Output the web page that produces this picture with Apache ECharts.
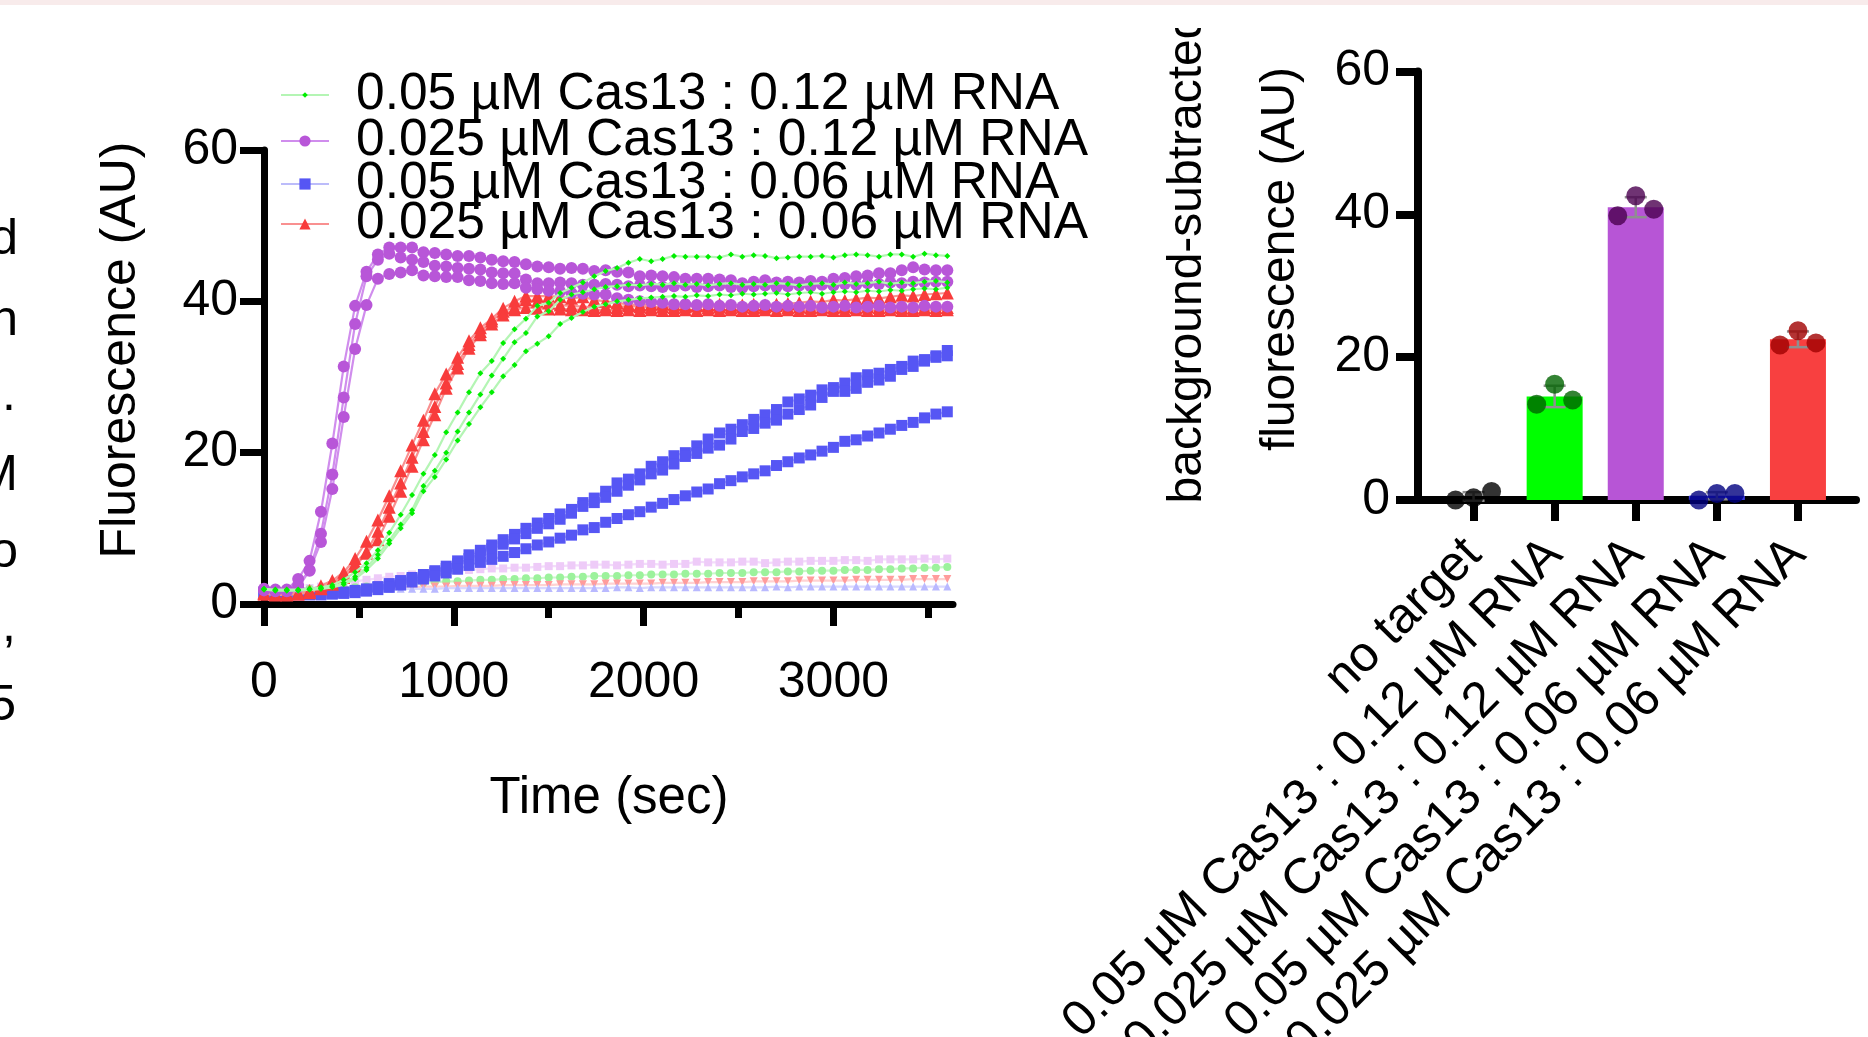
<!DOCTYPE html>
<html><head><meta charset="utf-8">
<script src="https://cdn.jsdelivr.net/npm/echarts@6/dist/echarts.min.js"></script>
<style>html,body{margin:0;padding:0;background:#fff}#c{width:1868px;height:1037px}</style>
</head><body><div id="c"></div>
<script>
const FONT = 'Liberation Sans, Arial, sans-serif';

const TIME = [0,60,120,180,240,300,360,420,480,540,600,660,720,780,840,900,960,1020,1080,1140,1200,1260,1320,1380,1440,1500,1560,1620,1680,1740,1800,1860,1920,1980,2040,2100,2160,2220,2280,2340,2400,2460,2520,2580,2640,2700,2760,2820,2880,2940,3000,3060,3120,3180,3240,3300,3360,3420,3480,3540,3600];
const X_MAJOR = [0,1000,2000,3000];
const X_MINOR = [500,1500,2500,3500];

const LEG_NAMES = ['0.05 µM Cas13 : 0.12 µM RNA','0.025 µM Cas13 : 0.12 µM RNA','0.05 µM Cas13 : 0.06 µM RNA','0.025 µM Cas13 : 0.06 µM RNA'];

// 0.025 µM Cas13 : 0.12 µM RNA (purple) replicates
const P1 = [2.0,1.9,1.9,3.3,5.7,12.2,21.2,31.4,39.4,43.9,
 46.2,47.1,47.1,47.1,46.5,46.4,46.2,46.0,46.0,45.8,
 45.5,45.3,45.2,44.9,44.6,44.5,44.3,44.4,44.3,44.0,
 44.1,43.9,43.8,43.3,43.4,43.3,43.2,43.0,43.0,43.0,
 42.9,42.8,42.4,42.6,42.8,42.5,42.6,42.5,42.7,42.6,
 43.0,43.1,43.3,43.4,43.7,43.7,44.1,44.5,44.2,44.1,
 44.1];
const P2 = [1.9,1.8,1.8,2.5,4.5,9.3,17.1,27.3,37.0,43.3,
 45.5,46.3,45.8,45.5,45.2,44.7,44.6,44.4,44.3,44.2,
 43.8,43.7,43.7,42.9,42.4,42.4,42.5,42.4,42.2,42.2,
 42.3,42.2,42.0,42.1,42.0,41.9,42.0,42.1,41.9,42.0,
 42.1,41.9,41.8,42.0,42.1,41.9,42.0,42.1,42.0,42.2,
 42.1,42.3,42.2,42.4,42.3,42.5,42.4,42.6,42.5,42.6,
 42.6];
const P3 = [1.8,1.7,1.7,2.2,4.4,8.2,15.2,24.7,33.7,39.5,
 43.0,43.6,43.8,44.1,43.4,43.3,43.2,43.2,42.8,42.7,
 42.4,42.3,42.4,41.8,41.6,41.4,41.3,41.1,41.0,40.9,
 40.9,40.4,40.2,40.0,39.9,39.8,39.6,39.6,39.5,39.6,
 39.4,39.5,39.3,39.4,39.5,39.3,39.4,39.3,39.4,39.2,
 39.3,39.4,39.2,39.3,39.4,39.2,39.3,39.2,39.4,39.3,
 39.3];
// 0.025 µM Cas13 : 0.06 µM RNA (red)
const R1 = [1.5,1.4,1.4,1.5,1.8,2.4,3.1,4.2,6.0,8.3,
 11.1,14.3,17.6,21.0,24.3,27.8,30.4,32.6,34.8,36.5,
 37.7,39.1,40.0,40.7,40.7,40.7,40.6,40.4,40.6,40.2,
 40.0,39.8,39.6,39.5,39.6,39.7,39.6,39.5,39.4,39.5,
 39.6,39.5,39.5,39.6,39.5,39.6,39.7,39.8,40.0,39.9,
 40.2,40.1,40.3,40.5,40.4,40.6,40.8,40.7,40.9,41.0,
 41.1];
const R2 = [1.4,1.3,1.3,1.4,1.6,2.1,2.8,3.8,5.4,6.9,
 9.6,12.8,16.0,19.4,22.8,26.1,29.2,31.8,34.3,36.0,
 37.4,38.7,39.2,40.2,40.0,39.8,39.5,39.4,39.3,39.2,
 39.3,39.2,39.4,39.3,39.2,39.3,39.2,39.3,39.4,39.2,
 39.3,39.2,39.3,39.2,39.3,39.4,39.2,39.3,39.2,39.3,
 39.2,39.3,39.2,39.3,39.2,39.3,39.2,39.1,39.2,39.2,
 39.2];
const R3 = [1.3,1.2,1.2,1.3,1.5,2.0,2.6,3.5,5.0,6.7,
 8.5,11.6,14.9,18.2,21.7,25.0,28.5,31.2,33.8,35.6,
 37.0,38.2,38.9,39.2,39.1,39.0,39.0,38.9,38.9,38.8,
 38.9,38.8,38.9,38.8,38.9,38.8,38.8,38.9,38.8,38.9,
 38.8,38.9,38.8,38.8,38.9,38.8,38.9,38.8,38.8,38.9,
 38.8,38.8,38.9,38.8,38.8,38.9,38.8,38.8,38.9,38.8,
 38.9];
// 0.05 µM Cas13 : 0.12 µM RNA (green)
const G1 = [2.0,1.9,1.9,1.9,2.0,2.2,2.5,3.2,4.2,5.4,
 7.1,9.4,11.8,14.4,17.2,19.7,22.7,25.3,28.0,30.5,
 32.1,34.5,36.3,37.7,39.4,39.8,41.1,41.8,42.5,43.3,
 44.0,44.4,45.1,45.6,45.3,45.6,46.0,45.9,45.9,45.9,
 45.8,46.2,45.9,46.1,46.0,45.7,45.8,45.9,45.9,46.0,
 45.8,46.1,46.2,46.1,45.9,46.2,46.2,45.9,46.3,46.1,
 46.0];
const G2 = [1.9,1.8,1.8,1.8,1.9,2.0,2.3,2.8,3.6,4.8,
 6.5,8.4,10.5,12.4,15.6,17.6,20.0,22.8,25.3,27.7,
 30.2,32.4,34.6,35.8,38.0,38.7,40.2,40.9,41.2,41.6,
 41.9,42.0,42.2,42.1,42.3,42.2,42.4,42.2,42.3,42.1,
 42.3,42.4,42.2,42.3,42.2,42.4,42.3,42.1,42.3,42.4,
 42.2,42.5,42.3,42.4,42.6,42.3,42.5,42.4,42.6,42.7,
 42.5];
const G3 = [1.9,1.8,1.8,1.8,1.9,2.0,2.2,2.6,3.3,4.5,
 6.0,8.0,10.0,12.0,14.9,16.8,19.1,21.6,23.8,26.0,
 28.0,30.1,31.6,33.4,34.4,35.4,37.0,37.8,38.6,39.3,
 39.6,40.0,40.2,40.4,40.5,40.6,40.7,40.6,40.8,40.7,
 40.9,40.8,41.0,40.9,41.0,41.1,40.9,41.1,41.2,41.0,
 41.2,41.3,41.2,41.4,41.3,41.5,41.4,41.6,41.7,41.6,
 41.8];
// 0.05 µM Cas13 : 0.06 µM RNA (blue)
const B1 = [1.6,1.5,1.4,1.4,1.4,1.4,1.5,1.6,1.8,2.0,
 2.3,2.7,3.1,3.5,3.9,4.4,5.0,5.7,6.5,7.1,
 7.8,8.5,9.2,10.0,10.7,11.3,11.9,12.5,13.4,14.0,
 14.9,16.0,16.5,17.2,18.2,18.8,19.6,20.0,20.9,21.8,
 22.6,23.1,23.7,24.4,25.0,25.7,26.7,27.1,27.6,28.3,
 28.6,29.2,29.9,30.3,30.5,31.0,31.4,32.1,32.3,32.8,
 33.5];
const B2 = [1.5,1.4,1.3,1.3,1.3,1.3,1.4,1.5,1.7,1.9,
 2.2,2.5,2.9,3.3,3.7,4.2,4.7,5.3,6.0,6.6,
 7.3,7.9,8.6,9.3,10.0,10.6,11.2,12.0,12.9,13.4,
 14.1,14.9,15.7,16.4,17.2,17.7,18.5,19.5,19.9,20.6,
 21.0,21.8,22.8,23.2,23.9,24.3,25.1,25.7,26.3,27.3,
 28.1,28.1,28.5,29.3,29.6,30.1,31.0,31.4,32.1,32.6,
 32.8];
const B3 = [1.4,1.3,1.2,1.2,1.2,1.2,1.3,1.4,1.5,1.7,
 1.9,2.2,2.5,2.9,3.3,3.7,4.1,4.6,5.1,5.5,
 5.9,6.3,6.8,7.3,7.8,8.2,8.7,9.1,9.8,10.1,
 10.8,11.3,11.8,12.2,12.8,13.3,13.8,14.3,14.8,15.2,
 15.9,16.3,16.8,17.2,17.6,18.3,18.8,19.3,19.7,20.2,
 20.7,21.5,21.7,22.2,22.6,23.1,23.6,24.0,24.6,25.1,
 25.4];
// no-target controls (light colours)
const CTRL_P = [2.0,2.0,2.0,2.0,2.1,2.3,2.5,2.8,3.0,3.2,
 3.4,3.6,3.7,3.9,4.0,4.2,4.3,4.4,4.5,4.6,
 4.7,4.7,4.8,4.8,4.9,5.0,5.0,5.1,5.1,5.2,
 5.2,5.1,5.2,5.3,5.3,5.2,5.3,5.3,5.6,5.5,
 5.5,5.5,5.6,5.6,5.4,5.5,5.6,5.6,5.7,5.7,
 5.7,5.8,5.8,5.7,5.9,5.9,5.9,5.9,6.0,5.9,
 6.0];
const CTRL_G = [2.0,2.0,2.0,2.0,2.0,2.0,2.0,2.1,2.2,2.3,
 2.4,2.5,2.6,2.7,2.8,2.9,3.0,3.0,3.1,3.2,
 3.2,3.3,3.3,3.4,3.4,3.5,3.5,3.6,3.6,3.7,
 3.7,3.7,3.8,3.8,3.9,3.9,3.9,4.0,4.0,4.0,
 4.1,4.1,4.1,4.2,4.2,4.2,4.3,4.3,4.4,4.4,
 4.4,4.5,4.5,4.5,4.6,4.6,4.7,4.7,4.8,4.8,
 4.9];
const CTRL_R = [1.4,1.4,1.4,1.5,1.5,1.6,1.7,1.8,1.9,2.0,
 2.1,2.1,2.2,2.2,2.3,2.3,2.3,2.4,2.4,2.4,
 2.4,2.5,2.5,2.5,2.5,2.5,2.6,2.6,2.6,2.6,
 2.7,2.7,2.7,2.7,2.7,2.8,2.8,2.8,2.8,2.9,
 2.9,2.9,2.9,3.0,3.0,3.0,3.0,3.1,3.1,3.1,
 3.1,3.1,3.2,3.2,3.2,3.2,3.2,3.3,3.3,3.3,
 3.3];
const CTRL_B = [1.8,1.8,1.8,1.8,1.8,1.9,1.9,1.9,2.0,2.0,
 2.0,2.0,2.0,2.0,2.0,2.0,2.1,2.1,2.1,2.1,
 2.1,2.1,2.1,2.1,2.1,2.1,2.1,2.1,2.1,2.1,
 2.1,2.2,2.2,2.1,2.2,2.2,2.2,2.2,2.2,2.2,
 2.2,2.2,2.2,2.2,2.2,2.3,2.2,2.3,2.3,2.3,
 2.3,2.3,2.3,2.3,2.3,2.3,2.3,2.3,2.3,2.3,
 2.3];

// bar chart
const BAR_CATS = ['no target','0.05 µM Cas13 : 0.12 µM RNA','0.025 µM Cas13 : 0.12 µM RNA','0.05 µM Cas13 : 0.06 µM RNA','0.025 µM Cas13 : 0.06 µM RNA'];
const BAR_MEAN = [0.5, 14.5, 41.0, 0.6, 22.5];
const BAR_SD = [0.6, 1.5, 1.4, 0.5, 1.1];
const DOT_1 = [0.0, 13.4, 39.8, 0.0, 21.7];
const DOT_2 = [0.3, 16.2, 42.6, 0.9, 23.7];
const DOT_3 = [1.2, 14.0, 40.7, 0.9, 22.0];
const BAR_COLORS = ['#000000','#00ff00','#b755d6','#3a3ae0','#f84040'];
const DOT_COLORS = ['#000000','#006400','#4b0050','#000080','#a00000'];

function lineSeries(name, vals, st) {
  return {
    type: 'line', name: name, xAxisIndex: 0, yAxisIndex: 0,
    data: TIME.map((t, i) => [t, vals[i]]),
    symbol: st.symbol, symbolSize: st.size, symbolRotate: st.rotate || 0,
    showSymbol: true, showAllSymbol: true,
    itemStyle: { color: st.color },
    lineStyle: { color: st.line, width: 2.2 },
    emphasis: { disabled: true }, silent: true, z: st.z || 2, animation: false
  };
}
const ST_G = { symbol: 'diamond', size: 6, color: '#00ee00', line: '#b4f5b4', z: 6 };
const ST_P = { symbol: 'circle', size: 12, color: '#b856d8', line: '#d08ded', z: 5 };
const ST_B = { symbol: 'rect', size: 11, color: '#5656f4', line: '#bcbcfa', z: 3 };
const ST_R = { symbol: 'triangle', size: 13, color: '#f83c3c', line: '#f99090', z: 4 };

const series = [
  lineSeries('ctrlP', CTRL_P, { symbol: 'rect', size: 8, color: '#eecbf8', line: '#f3dcfb', z: 2 }),
  lineSeries('ctrlG', CTRL_G, { symbol: 'circle', size: 8, color: '#9cf29c', line: '#caf8ca', z: 2 }),
  lineSeries('ctrlR', CTRL_R, { symbol: 'triangle', size: 8, rotate: 180, color: '#ff9c9c', line: '#ffd2d2', z: 2 }),
  lineSeries('ctrlB', CTRL_B, { symbol: 'triangle', size: 8, color: '#b9b9ff', line: '#d8d8ff', z: 2 }),
  lineSeries(LEG_NAMES[2], B1, ST_B), lineSeries(LEG_NAMES[2], B2, ST_B), lineSeries(LEG_NAMES[2], B3, ST_B),
  lineSeries(LEG_NAMES[3], R1, ST_R), lineSeries(LEG_NAMES[3], R2, ST_R), lineSeries(LEG_NAMES[3], R3, ST_R),
  lineSeries(LEG_NAMES[1], P1, ST_P), lineSeries(LEG_NAMES[1], P2, ST_P), lineSeries(LEG_NAMES[1], P3, ST_P),
  lineSeries(LEG_NAMES[0], G1, ST_G), lineSeries(LEG_NAMES[0], G2, ST_G), lineSeries(LEG_NAMES[0], G3, ST_G),
  {
    type: 'bar', xAxisIndex: 2, yAxisIndex: 2, barWidth: 56, silent: true, z: 2,
    data: BAR_MEAN.map((v, i) => ({ value: v, itemStyle: { color: BAR_COLORS[i] } }))
  },
  {
    type: 'custom', xAxisIndex: 2, yAxisIndex: 2, silent: true, z: 3,
    data: BAR_MEAN.map((m, i) => [i, m, BAR_SD[i]]),
    renderItem: function (params, api) {
      const x = api.value(0), m = api.value(1), s = api.value(2);
      const t = api.coord([x, m + s]), b = api.coord([x, m - s]);
      const h = 11, st = { stroke: '#8f8f8f', lineWidth: 2.5 };
      return { type: 'group', children: [
        { type: 'line', shape: { x1: t[0], y1: t[1], x2: b[0], y2: b[1] }, style: st },
        { type: 'line', shape: { x1: t[0] - h, y1: t[1], x2: t[0] + h, y2: t[1] }, style: st },
        { type: 'line', shape: { x1: b[0] - h, y1: b[1], x2: b[0] + h, y2: b[1] }, style: st }
      ]};
    }
  }
];
[[DOT_1, -18], [DOT_2, 0], [DOT_3, 18]].forEach(function (d) {
  series.push({
    type: 'scatter', xAxisIndex: 2, yAxisIndex: 2, silent: true, z: 4,
    symbol: 'circle', symbolSize: 19, symbolOffset: [d[1], 0],
    data: d[0].map((v, i) => ({ value: [i, v], itemStyle: { color: DOT_COLORS[i] } }))
  });
});

const LEG_TOPS = [69, 115, 158, 198];
const legends = LEG_NAMES.map(function (n, i) {
  return {
    data: [n], left: 280, top: LEG_TOPS[i], orient: 'vertical', padding: 0,
    itemWidth: 48, itemHeight: i === 0 ? 7 : 14, selectedMode: false,
    textStyle: { fontSize: 51.5, fontFamily: FONT, color: '#000', lineHeight: 51, padding: [0, 0, 0, 22] }
  };
});

const AX = { color: '#000', width: 7 };
const option = {
  animation: false,
  backgroundColor: '#ffffff',
  grid: [
    { left: 264, top: 150, width: 689, height: 454, outerBoundsMode: 'none', containLabel: false },
    { left: 1418, top: 71.5, width: 438, height: 428.5, outerBoundsMode: 'none', containLabel: false },
    { left: 1433, top: 71.5, width: 405.5, height: 428.5, outerBoundsMode: 'none', containLabel: false }
  ],
  xAxis: [
    { type: 'value', gridIndex: 0, position: 'bottom', min: 0, max: 3630,
      axisLine: { show: true, lineStyle: AX },
      axisTick: { show: true, customValues: X_MAJOR, length: 22, lineStyle: AX },
      axisLabel: { customValues: X_MAJOR, formatter: function (v) { return String(v); }, fontSize: 50, fontFamily: FONT, color: '#000', margin: 54 },
      splitLine: { show: false } },
    { type: 'value', gridIndex: 0, position: 'bottom', min: 0, max: 3630,
      axisLine: { show: false },
      axisTick: { show: true, customValues: X_MINOR, length: 14, lineStyle: AX },
      axisLabel: { show: false }, splitLine: { show: false } },
    { type: 'category', gridIndex: 2, data: BAR_CATS, position: 'bottom',
      axisLine: { show: false },
      axisTick: { show: true, alignWithLabel: true, length: 21, lineStyle: { color: '#000', width: 8 } },
      axisLabel: { rotate: 45, interval: 0, fontSize: 50, fontFamily: FONT, color: '#000', margin: 47 } },
    { type: 'value', gridIndex: 1, position: 'bottom', min: 0, max: 1,
      axisLine: { show: true, lineStyle: { color: '#000', width: 8 } },
      axisTick: { show: false }, axisLabel: { show: false }, splitLine: { show: false } }
  ],
  yAxis: [
    { type: 'value', gridIndex: 0, min: 0, max: 60, interval: 20,
      axisLine: { show: true, lineStyle: AX },
      axisTick: { show: true, length: 24, lineStyle: AX },
      axisLabel: { fontSize: 50, fontFamily: FONT, color: '#000', margin: 26 },
      splitLine: { show: false } },
    { type: 'value', gridIndex: 1, min: 0, max: 60, interval: 20,
      axisLine: { show: true, lineStyle: { color: '#000', width: 8 } },
      axisTick: { show: true, length: 22, lineStyle: { color: '#000', width: 8 } },
      axisLabel: { fontSize: 50, fontFamily: FONT, color: '#000', margin: 28 },
      splitLine: { show: false } },
    { type: 'value', gridIndex: 2, min: 0, max: 60, show: false }
  ],
  legend: legends,
  series: series,
  graphic: [
    { type: 'rect', left: 0, top: 0, shape: { width: 1868, height: 5 }, style: { fill: '#f8ebeb' }, silent: true, z: 100 },
    { type: 'text', x: 121, y: 350, rotation: Math.PI / 2, style: { text: 'Fluorescence (AU)', fontSize: 50, fontFamily: FONT, fill: '#000', align: 'center', verticalAlign: 'middle' } },
    { type: 'text', x: 609, y: 799, style: { text: 'Time (sec)', fontSize: 51, fontFamily: FONT, fill: '#000', align: 'center', verticalAlign: 'middle' } },
    { type: 'text', x: 1188, y: 258, rotation: Math.PI / 2, style: { text: 'background-subtracted', fontSize: 48, fontFamily: FONT, fill: '#000', align: 'center', verticalAlign: 'middle' } },
    { type: 'text', x: 1281, y: 259, rotation: Math.PI / 2, style: { text: 'fluorescence (AU)', fontSize: 48, fontFamily: FONT, fill: '#000', align: 'center', verticalAlign: 'middle' } },
    { type: 'rect', left: 1140, top: 5, shape: { width: 100, height: 23 }, style: { fill: '#ffffff' }, silent: true, z: 99 },
    { type: 'text', x: 18, y: 240, style: { text: 'd', fontSize: 50, fontFamily: FONT, fill: '#000', align: 'right', verticalAlign: 'middle' } },
    { type: 'text', x: 18, y: 321, style: { text: 'n', fontSize: 50, fontFamily: FONT, fill: '#000', align: 'right', verticalAlign: 'middle' } },
    { type: 'text', x: 16, y: 396, style: { text: '.', fontSize: 50, fontFamily: FONT, fill: '#000', align: 'right', verticalAlign: 'middle' } },
    { type: 'text', x: 18, y: 476, style: { text: 'M', fontSize: 50, fontFamily: FONT, fill: '#000', align: 'right', verticalAlign: 'middle' } },
    { type: 'text', x: 18, y: 553, style: { text: 'o', fontSize: 50, fontFamily: FONT, fill: '#000', align: 'right', verticalAlign: 'middle' } },
    { type: 'text', x: 16, y: 627, style: { text: ',', fontSize: 50, fontFamily: FONT, fill: '#000', align: 'right', verticalAlign: 'middle' } },
    { type: 'text', x: 16, y: 706, style: { text: '5', fontSize: 50, fontFamily: FONT, fill: '#000', align: 'right', verticalAlign: 'middle' } }
  ]
};
const chart = echarts.init(document.getElementById('c'), null, { renderer: 'canvas' });
chart.setOption(option);
</script>
</body></html>
